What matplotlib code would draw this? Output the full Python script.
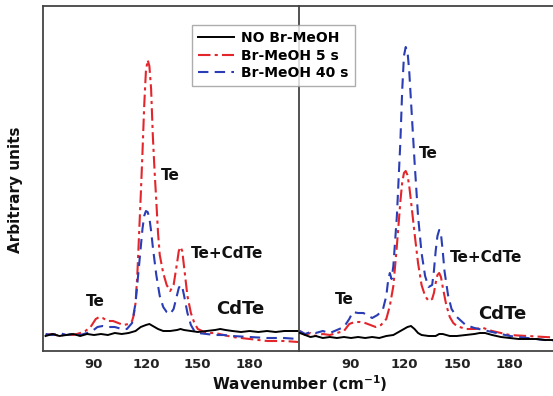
import matplotlib
matplotlib.use("Agg")
import matplotlib.pyplot as plt
from matplotlib.lines import Line2D

# ---- data (arbitrary units) ----
# left panel
left_black_x = [62, 66, 70, 74, 78, 82, 86, 90, 94, 98, 102, 106, 110, 114, 117, 120, 122, 124, 127, 130,
                134, 138, 140, 142, 146, 150, 155, 160, 163, 166, 170, 175, 180, 185, 190, 195, 200, 205, 208]
left_black_y = [15, 17, 15, 16, 17, 15, 17, 16, 17, 16, 18, 17, 18, 20, 24, 26, 27, 25, 22, 20,
                20, 21, 22, 21, 20, 19, 20, 21, 22, 21, 20, 19, 20, 19, 20, 19, 20, 20, 20]

left_red_x = [62, 66, 70, 74, 78, 82, 85, 88, 91, 93, 95, 98, 101, 104, 107, 110, 112, 113, 114, 115,
              116, 117, 118, 119, 120, 121, 122, 123, 124, 125, 126, 127, 128, 130, 132, 134, 136, 138,
              139, 140, 141, 142, 144, 146, 148, 150, 155, 160, 165, 170, 180, 190, 200, 208]
left_red_y = [16, 17, 15, 17, 16, 18, 20, 24, 32, 34, 33, 30, 30, 28, 26, 27, 30, 36, 48, 75,
              115, 155, 198, 245, 280, 291, 285, 262, 215, 180, 150, 118, 96, 78, 66, 60, 66, 88,
              100, 104, 100, 85, 55, 38, 28, 22, 18, 18, 16, 14, 12, 10, 10, 9]

left_blue_x = [62, 66, 70, 74, 78, 82, 86, 89, 92, 95, 98, 102, 106, 109, 112, 114, 116, 118, 119, 120,
               121, 122, 123, 124, 126, 128, 130, 132, 134, 136, 138, 139, 140, 141, 142, 144, 146,
               148, 150, 155, 160, 165, 170, 180, 190, 200, 208]
left_blue_y = [17, 16, 18, 16, 17, 16, 18, 20, 24, 25, 24, 24, 22, 22, 28, 48, 85, 122, 135, 140,
               139, 133, 120, 104, 76, 55, 44, 39, 37, 42, 56, 63, 66, 64, 56, 38, 26,
               20, 18, 17, 16, 16, 15, 14, 13, 13, 12]

# right panel
right_black_x = [61, 64, 67, 70, 74, 78, 82, 86, 90, 94, 98, 102, 106, 110, 114, 117, 120, 122, 124, 126,
                 128, 130, 134, 138, 140, 142, 146, 150, 155, 160, 163, 166, 170, 175, 180, 185, 190,
                 195, 200, 205, 210]
right_black_y = [18, 16, 14, 15, 13, 14, 13, 14, 13, 14, 13, 14, 13, 15, 16, 19, 22, 24, 25, 22,
                 18, 16, 15, 15, 17, 17, 15, 15, 16, 17, 18, 18, 16, 14, 13, 12, 12,
                 12, 11, 11, 11]

right_red_x = [61, 64, 67, 70, 74, 78, 82, 86, 89, 92, 95, 98, 101, 104, 107, 110, 112, 114, 116, 118,
               119, 120, 121, 122, 123, 124, 126, 128, 130, 132, 134, 136, 137, 138, 139, 140, 141,
               142, 144, 146, 148, 150, 155, 160, 165, 170, 175, 180, 190, 200, 210]
right_red_y = [20, 16, 18, 15, 17, 16, 18, 20, 27, 29, 29, 28, 26, 24, 26, 32, 45, 65, 105, 150,
               168, 178, 180, 176, 165, 150, 118, 88, 66, 55, 50, 52, 58, 68, 76, 78, 74,
               64, 46, 34, 28, 25, 22, 22, 23, 20, 18, 16, 15, 14, 13]

right_blue_x = [61, 64, 67, 70, 74, 78, 82, 86, 89, 91, 94, 97, 100, 102, 105, 108, 110, 111, 112, 113,
                114, 116, 118, 119, 120, 121, 122, 123, 124, 126, 128, 130, 132, 134, 136, 137, 138, 139,
                140, 141, 142, 143, 145, 147, 150, 155, 160, 165, 170, 175, 180, 190, 200, 210]
right_blue_y = [20, 17, 19, 18, 20, 18, 21, 24, 32, 39, 38, 38, 35, 33, 36, 41, 55, 70, 78, 72,
                85, 135, 210, 260, 295, 304, 300, 280, 250, 190, 135, 98, 75, 64, 66, 80, 100, 115,
                121, 117, 100, 80, 56, 42, 34, 26, 23, 21, 19, 17, 15, 13, 11, 10]

xticks = [90, 120, 150, 180]
legend_labels = ["NO Br-MeOH", "Br-MeOH 5 s", "Br-MeOH 40 s"]

RED = "#e3262b"
BLUE = "#2a3db5"
SPINE = "#444444"
RED_LS = (0, (6, 2, 1.5, 2))
BLUE_LS = (0, (5, 3))

fig = plt.figure(figsize=(5.53, 3.96), dpi=100)
W, H = 553, 396
bottom = (H - 351) / H
height = 345 / H
ax1 = fig.add_axes([43 / W, bottom, 256 / W, height])
ax2 = fig.add_axes([299 / W, bottom, 261 / W, height])

panels = [
    (ax1, left_black_x, left_black_y, left_red_x, left_red_y, left_blue_x, left_blue_y),
    (ax2, right_black_x, right_black_y, right_red_x, right_red_y, right_blue_x, right_blue_y),
]
for ax, bx, by, rx, ry, ux, uy in panels:
    ax.plot(bx, by, color="black", lw=1.4, zorder=3)
    ax.plot(rx, ry, color=RED, lw=1.5, ls=RED_LS)
    ax.plot(ux, uy, color=BLUE, lw=1.5, ls=BLUE_LS)
    ax.set_xlim(60.5, 208.5)
    ax.set_ylim(0, 345)
    ax.set_yticks([])
    ax.set_xticks(xticks)
    ax.tick_params(axis="x", length=0, pad=5, labelsize=9.5)
    for lab in ax.get_xticklabels():
        lab.set_fontweight("bold")
        lab.set_color("#222222")
    for sp in ax.spines.values():
        sp.set_color(SPINE)
        sp.set_linewidth(1.3)

ax1.spines["right"].set_visible(False)

# peak annotations
txt = dict(fontweight="bold", color="#111111")
ax1.text(90.5, 50, "Te", ha="center", va="center", fontsize=11, **txt)
ax1.text(128.5, 176, "Te", ha="left", va="center", fontsize=11, **txt)
ax1.text(146, 97, "Te+CdTe", ha="left", va="center", fontsize=11, **txt)
ax1.text(174.5, 42, "CdTe", ha="center", va="center", fontsize=13, **txt)

ax2.text(86, 52, "Te", ha="center", va="center", fontsize=11, **txt)
ax2.text(128.5, 198, "Te", ha="left", va="center", fontsize=11, **txt)
ax2.text(146, 93, "Te+CdTe", ha="left", va="center", fontsize=11, **txt)
ax2.text(175.5, 37, "CdTe", ha="center", va="center", fontsize=13, **txt)

handles = [
    Line2D([], [], color="black", lw=1.4),
    Line2D([], [], color=RED, lw=1.5, ls=RED_LS),
    Line2D([], [], color=BLUE, lw=1.5, ls=BLUE_LS),
]
leg = fig.legend(handles, legend_labels, loc="upper left",
                 bbox_to_anchor=(192 / W, 1 - 25 / H), frameon=True, fancybox=False,
                 prop=dict(weight="bold", size=10), handlelength=2.6, handletextpad=0.5,
                 labelspacing=0.25, borderpad=0.45, borderaxespad=0)
leg.get_frame().set_edgecolor("#999999")
leg.get_frame().set_linewidth(1.0)
leg.set_zorder(10)

fig.text(300 / W, 1 - 384 / H, "Wavenumber (cm$^{\\mathbf{-1}}$)", ha="center", va="center",
         fontsize=11, fontweight="bold", color="#111111")
fig.text(16 / W, 1 - 190 / H, "Arbitrary units", ha="center", va="center", rotation=90,
         fontsize=11, fontweight="bold", color="#111111")

fig.savefig("out.png", dpi=100)
